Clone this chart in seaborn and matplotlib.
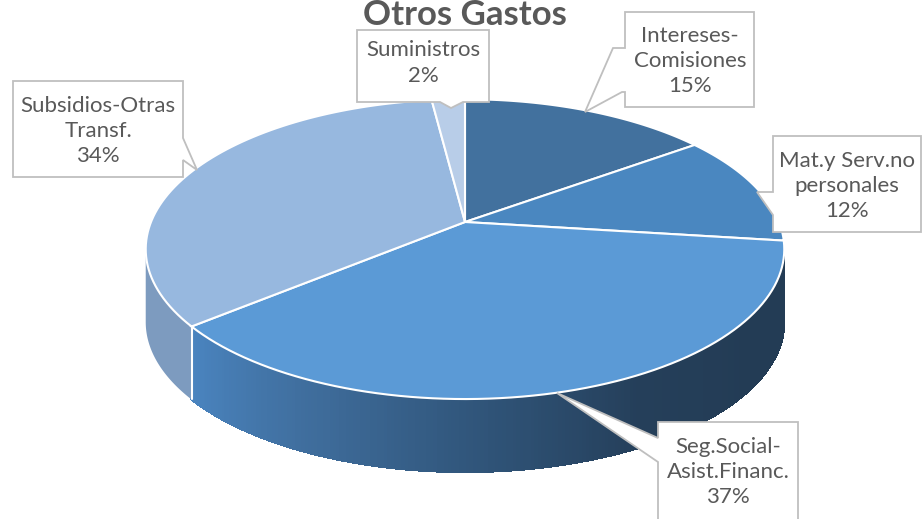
import numpy as np
import matplotlib
matplotlib.use("Agg")
import matplotlib.pyplot as plt
from matplotlib.patches import Polygon
import seaborn as sns

# data, clockwise from 12 o'clock
categorias = ["Intereses-\nComisiones", "Mat.y Serv.no\npersonales", "Seg.Social-\nAsist.Financ.",
              "Subsidios-Otras\nTransf.", "Suministros"]
porcentajes = [15, 12, 37, 34, 2]
colores_top = ["#42719e", "#4a87c0", "#5b9ad6", "#97b8df", "#b8cde8"]
colores_lado = ["#2f5273", "#355f88", "#4a80b8", "#7d9bbf", "#9fb3cc"]
titulo = "Otros Gastos"

sns.set_theme(style="white")
plt.rcParams["font.family"] = ["Lato", "DejaVu Sans"]

fig = plt.figure(figsize=(9.22, 5.19), dpi=100)
ax = fig.add_axes([0, 0, 1, 1])
ax.set_xlim(0, 922)
ax.set_ylim(519, 0)
ax.axis("off")

# pie centre, radii, perspective factor and thickness
cx, cy, rx, ry, e, depth = 465, 222, 314, 145, 0.181, 73


def punto(t, dy=0):
    r = np.radians(t)
    k = 1.0 / (1.0 + e * np.cos(r))
    return cx + rx * np.sin(r) * k, cy - ry * np.cos(r) * k + dy


def arco(t0, t1, dy=0, n=80):
    ts = np.linspace(t0, t1, n)
    return [punto(t, dy) for t in ts]


total = sum(porcentajes)
bordes = np.concatenate([[0], np.cumsum(porcentajes) / total * 360])
t_der = np.degrees(np.arccos(-e))
t_izq = 360 - t_der

# sides (visible front part only)
for i, (t0, t1) in enumerate(zip(bordes[:-1], bordes[1:])):
    a, b = max(t0, t_der), min(t1, t_izq)
    if a >= b:
        continue
    if i == 2:
        n = 240
        grad = sns.blend_palette(["#4a84bf", "#3f6d9c", "#30557a", "#253f5a", "#233c55", "#233c55"], n)
        pasos = np.linspace(a, b, n + 1)
        for k in range(n):
            pts = arco(pasos[k], pasos[k + 1], n=3)
            pts_b = arco(pasos[k], pasos[k + 1], dy=depth, n=3)[::-1]
            c = grad[n - 1 - k]
            ax.add_patch(Polygon(pts + pts_b, closed=True, facecolor=c, edgecolor=c,
                                 lw=0.8, antialiased=False))
        # smooth outline of the strip block
        contorno = arco(a, b) + arco(a, b, dy=depth)[::-1]
        ax.add_patch(Polygon(contorno, closed=True, facecolor="none", edgecolor="none"))
    else:
        pts = arco(a, b) + arco(a, b, dy=depth)[::-1]
        ax.add_patch(Polygon(pts, closed=True, facecolor=colores_lado[i], edgecolor="none"))
    if t_der < t1 < t_izq:
        x0, y0 = punto(t1)
        ax.plot([x0, x0], [y0, y0 + depth], color="white", lw=1.5)

# top faces
for i, (t0, t1) in enumerate(zip(bordes[:-1], bordes[1:])):
    pts = [(cx, cy)] + arco(t0, t1)
    ax.add_patch(Polygon(pts, closed=True, facecolor=colores_top[i], edgecolor="white", lw=1.5))

# callouts
callouts = [
    ([(625, 12), (754, 12), (754, 107), (625, 107), (625, 92), (622, 92), (585, 112), (613, 48), (625, 48)], (690, 61)),
    ([(773, 136), (921, 136), (921, 232), (773, 232), (773, 215), (757, 192), (773, 192)], (847, 186)),
    ([(658, 422), (798, 422), (798, 530), (658, 530), (658, 462), (557, 393), (658, 438)], (728, 472)),
    ([(13, 81), (183, 81), (183, 138), (197, 170), (183, 160), (183, 177), (13, 177)], (98, 131)),
    ([(357, 30), (489, 30), (489, 102), (463, 102), (451, 108), (440, 102), (357, 102)], (423, 63)),
]
for (poly, pos), nombre, p in zip(callouts, categorias, porcentajes):
    ax.add_patch(Polygon(poly, closed=True, facecolor="white", edgecolor="#bfbfbf", lw=1.3))
    ax.text(pos[0], pos[1], f"{nombre}\n{p}%", ha="center", va="center",
            fontsize=16, color="#595959", linespacing=1.33)

ax.text(465, 25, titulo, ha="center", va="baseline", fontsize=25,
        fontweight="bold", color="#595959")

fig.savefig("out.png", dpi=100)
